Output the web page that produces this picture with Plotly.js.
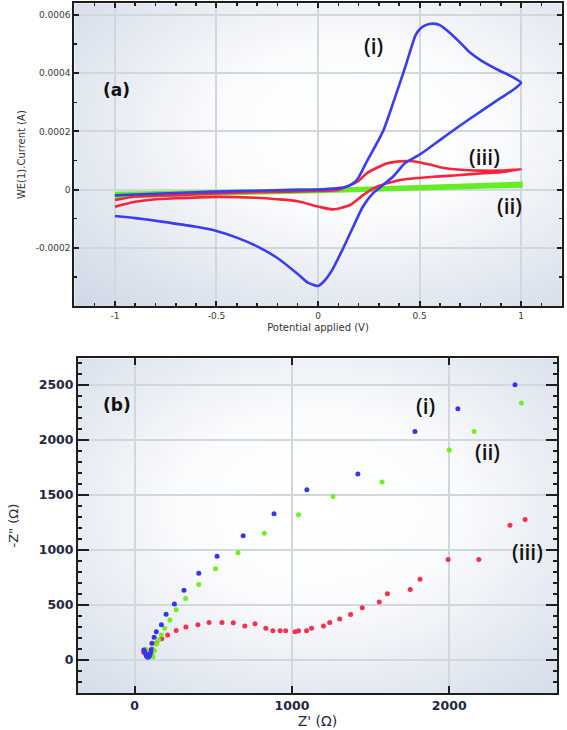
<!DOCTYPE html>
<html>
<head>
<meta charset="utf-8">
<script src="https://cdn.plot.ly/plotly-3.0.1.min.js"></script>
<style>html,body{margin:0;padding:0;background:#fff}#chart{width:567px;height:730px}</style>
</head>
<body>
<div id="chart"></div>
<script>
// ---------- Panel (a): cyclic voltammograms (current in units of 1e-4 A) ----------
const cvBlueX = [-1,-0.9,-0.7,-0.5,-0.3,-0.1,0,0.1,0.14,0.18,0.2,0.24,0.32,0.375,0.43,0.48,0.5,0.53,0.57,0.6,0.65,0.7,0.75,0.8,0.89,0.95,1.0,
                 0.96,0.9,0.8,0.7,0.6,0.5,0.43,0.37,0.31,0.27,0.22,0.17,0.125,0.07,0.03,0,-0.05,-0.1,-0.2,-0.3,-0.4,-0.5,-0.6,-0.77,-0.9,-1];
const cvBlueY = [-0.2,-0.17,-0.12,-0.07,-0.04,-0.01,0,0.05,0.1,0.25,0.42,0.96,2.0,3.08,4.22,5.3,5.5,5.65,5.7,5.65,5.38,5.05,4.7,4.45,4.1,3.9,3.67,
                 3.42,3.15,2.68,2.2,1.7,1.2,0.92,0.45,0.1,-0.13,-0.6,-1.33,-2.0,-2.76,-3.15,-3.31,-3.2,-2.9,-2.35,-1.95,-1.65,-1.42,-1.28,-1.1,-0.98,-0.91];

const cvRedX = [-1,-0.9,-0.7,-0.5,-0.3,0,0.1,0.142,0.2,0.24,0.29,0.339,0.4,0.45,0.49,0.55,0.6,0.7,0.8,0.9,1.0,
                0.9,0.815,0.7,0.568,0.405,0.29,0.222,0.158,0.075,0.01,-0.1,-0.2,-0.3,-0.5,-0.7,-0.8,-0.9,-1];
const cvRedY = [-0.36,-0.24,-0.19,-0.13,-0.09,-0.05,-0.01,0.1,0.3,0.56,0.75,0.9,0.97,0.98,0.95,0.86,0.77,0.68,0.65,0.65,0.7,
                0.6,0.56,0.5,0.44,0.33,0.1,-0.19,-0.53,-0.68,-0.6,-0.4,-0.33,-0.28,-0.25,-0.3,-0.33,-0.42,-0.59];

const cvGreenX = [-1,-0.5,0,0.5,1,1,0.5,0,-0.5,-1];
const cvGreenY = [-0.13,-0.07,0.0,0.1,0.22,0.12,0.02,-0.07,-0.15,-0.26];

const cvXTicks = [-1,-0.5,0,0.5,1];
const cvXTickText = ['-1','-0.5','0','0.5','1'];
const cvYTicks = [-0.0002,0,0.0002,0.0004,0.0006];
const cvYTickText = ['-0.0002','0','0.0002','0.0004','0.0006'];

// ---------- Panel (b): Nyquist plots ----------
const nyBlueX = [2418,2055,1782,1419,1095,886,690,524,408,314,253,200,170,138,124,110,104,96,83,70,58,75,90,100,65,80];
const nyBlueY = [2500,2282,2076,1690,1545,1327,1129,943,788,634,508,416,320,257,206,151,91,45,24,54,91,35,30,60,75,45];
const nyGreenX = [2459,2158,2000,1573,1261,1042,824,657,514,408,324,264,224,191,170,153,138,126,117,90,69,105,112];
const nyGreenY = [2333,2076,1907,1617,1484,1318,1152,973,829,685,558,457,362,287,227,181,142,84,30,30,97,60,45];
const nyRedX = [2482,2386,2188,1993,1814,1752,1607,1555,1447,1373,1304,1240,1201,1125,1093,1042,1020,960,925,879,834,765,700,627,555,473,402,326,264,210,172,140,110,79,58];
const nyRedY = [1276,1224,913,913,734,641,601,526,474,414,372,341,308,287,266,266,257,266,266,266,287,329,308,338,340,340,320,300,268,227,193,155,100,36,67];

const nyXTicks = [0,1000,2000];
const nyYTicks = [0,500,1000,1500,2000,2500];

const scale = 1e-4;

// ---------- geometry ----------
const W = 567, H = 730;
const domA = {x:[74.3/W, 561.7/W], y:[1-306/H, 1-3.3/H]};
const domB = {x:[78/W, 557/W], y:[1-693/H, 1-358.3/H]};

function grad(cx, cy){
  const svg = "<svg xmlns='http://www.w3.org/2000/svg' width='200' height='200' preserveAspectRatio='none'>" +
    "<defs><radialGradient id='g' cx='"+cx+"' cy='"+cy+"' r='0.8'>" +
    "<stop offset='0' stop-color='#ffffff'/><stop offset='0.35' stop-color='#fbfcfd'/>" +
    "<stop offset='1' stop-color='#d0d9e7'/></radialGradient></defs>" +
    "<rect width='200' height='200' fill='url(#g)'/></svg>";
  return 'data:image/svg+xml;charset=utf-8,' + encodeURIComponent(svg);
}

const traces = [
  {x: cvGreenX, y: cvGreenY.map(v=>v*scale), xaxis:'x', yaxis:'y', mode:'lines',
   line:{color:'#62ee22', width:3.2}, hoverinfo:'skip'},
  {x: cvRedX, y: cvRedY.map(v=>v*scale), xaxis:'x', yaxis:'y', mode:'lines',
   line:{color:'#f5253d', width:2.6, shape:'spline', smoothing:0.6}},
  {x: cvBlueX, y: cvBlueY.map(v=>v*scale), xaxis:'x', yaxis:'y', mode:'lines',
   line:{color:'#3a3cf0', width:2.6, shape:'spline', smoothing:0.6}},
  {x: nyRedX, y: nyRedY, xaxis:'x2', yaxis:'y2', mode:'markers',
   marker:{color:'#ff2d4f', size:5}},
  {x: nyGreenX, y: nyGreenY, xaxis:'x2', yaxis:'y2', mode:'markers',
   marker:{color:'#70f020', size:5}},
  {x: nyBlueX, y: nyBlueY, xaxis:'x2', yaxis:'y2', mode:'markers',
   marker:{color:'#3535f0', size:5}}
];

const axBase = {
  showline:true, linecolor:'#1e1e1e', linewidth:2, mirror:'ticks',
  ticks:'inside', tickcolor:'#1e1e1e', tickwidth:2,
  showgrid:true, gridcolor:'#d2d7dc', gridwidth:2, zeroline:false,
  automargin:false
};

function label(text, px, py, size, fam, weight){
  return {text:text, xref:'paper', yref:'paper', x:px/W, y:1-py/H, showarrow:false,
          xanchor:'center', yanchor:'middle',
          font:{family:fam, size:size, color:'#111', weight:weight}};
}

const layout = {
  width: W, height: H,
  margin:{l:0, r:0, t:0, b:0},
  paper_bgcolor:'#ffffff', plot_bgcolor:'rgba(0,0,0,0)',
  showlegend:false,
  xaxis: Object.assign({}, axBase, {
    domain: domA.x, anchor:'y', range:[-1.2,1.2],
    tickmode:'array', tickvals: cvXTicks, ticktext: cvXTickText, ticklen:5,
    minor:{dtick:0.1, tick0:0, ticklen:3, tickwidth:1.5, tickcolor:'#1e1e1e', showgrid:false, ticks:'inside'},
    tickfont:{family:'DejaVu Sans', size:9, color:'#3a3a3a'},
    title:{text:'Potential applied (V)', font:{family:'DejaVu Sans', size:10, color:'#333'}, standoff:4}
  }),
  yaxis: Object.assign({}, axBase, {
    domain: domA.y, anchor:'x', range:[-0.0004, 0.00064],
    tickmode:'array', tickvals: cvYTicks, ticktext: cvYTickText, ticklen:5,
    minor:{dtick:0.0001, tick0:0, ticklen:2.5, tickwidth:1.5, tickcolor:'#1e1e1e', showgrid:false, ticks:'inside'},
    tickfont:{family:'DejaVu Sans', size:9, color:'#3a3a3a'},
    title:{text:'WE(1).Current (A)', font:{family:'DejaVu Sans', size:10, color:'#333'}, standoff:8}
  }),
  xaxis2: Object.assign({}, axBase, {
    domain: domB.x, anchor:'y2', range:[-360, 2685],
    tickmode:'array', tickvals: nyXTicks, ticklen:7,
    tickfont:{family:'DejaVu Sans', size:12.5, color:'#22283f', weight:'bold'},
    title:{text:"Z' (Ω)", font:{family:'DejaVu Sans', size:14, color:'#22283f'}, standoff:2}
  }),
  yaxis2: Object.assign({}, axBase, {
    domain: domB.y, anchor:'x2', range:[-300, 2740],
    tickmode:'array', tickvals: nyYTicks, ticklen:11,
    minor:{dtick:100, tick0:0, ticklen:4, tickwidth:2, tickcolor:'#1e1e1e', showgrid:false, ticks:'inside'},
    tickfont:{family:'DejaVu Sans', size:12.5, color:'#22283f', weight:'bold'},
    title:{text:'-Z" (Ω)', font:{family:'DejaVu Sans', size:13, color:'#22283f'}, standoff:17}
  }),
  images:[
    {source: grad(0.58,0.42), xref:'paper', yref:'paper', x:domA.x[0], y:domA.y[1],
     sizex:domA.x[1]-domA.x[0], sizey:domA.y[1]-domA.y[0], sizing:'stretch',
     xanchor:'left', yanchor:'top', layer:'below'},
    {source: grad(0.5,0.45), xref:'paper', yref:'paper', x:domB.x[0], y:domB.y[1],
     sizex:domB.x[1]-domB.x[0], sizey:domB.y[1]-domB.y[0], sizing:'stretch',
     xanchor:'left', yanchor:'top', layer:'below'}
  ],
  annotations:[
    label('<b>(a)</b>', 116, 90, 17, 'DejaVu Sans', 'normal'),
    label('(i)', 373, 46, 21, 'Open Sans', 600),
    label('(iii)', 484, 157, 21, 'Open Sans', 600),
    label('(ii)', 509, 206, 21, 'Open Sans', 600),
    label('<b>(b)</b>', 117, 405, 17, 'DejaVu Sans', 'normal'),
    label('(i)', 425, 406, 21, 'Open Sans', 600),
    label('(ii)', 487, 452, 21, 'Open Sans', 600),
    label('(iii)', 527, 552, 21, 'Open Sans', 600)
  ]
};

Plotly.newPlot('chart', traces, layout, {staticPlot:true, displayModeBar:false});
</script>
</body>
</html>
